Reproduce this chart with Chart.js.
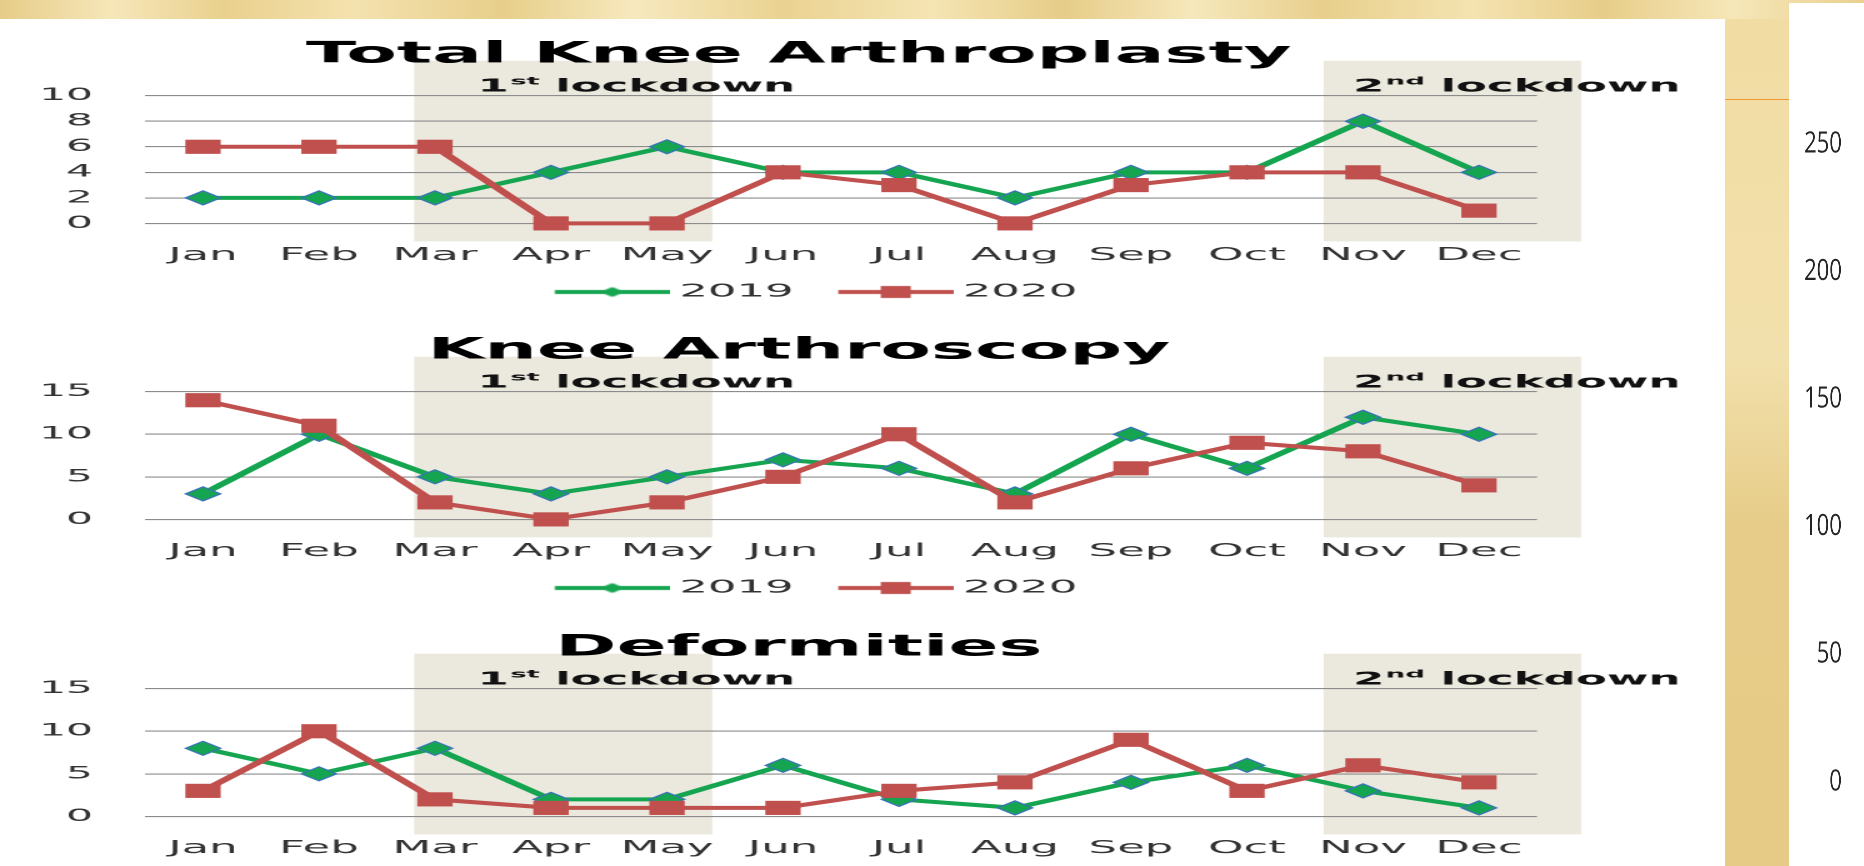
<!DOCTYPE html>
<html>
<head>
<meta charset="utf-8">
<script src="https://cdn.jsdelivr.net/npm/chart.js@4.4.1/dist/chart.umd.min.js"></script>
<style>
  html, body { margin: 0; padding: 0; }
  body {
    width: 1864px; height: 866px; overflow: hidden; position: relative;
    background: linear-gradient(90deg, #e6cc88 0%, #f6e7b9 6%, #e9d08e 12%, #f4e2ae 19%, #e7ce8a 27%,
      #f7e9be 34%, #ead291 42%, #f5e5b3 50%, #e6cc88 57%, #f6e8bb 64%, #e8cf8d 71%, #f4e3b0 79%,
      #e7cd89 86%, #f6e7b9 93%, #e9d08e 100%);
  }
  #panel { position: absolute; left: 0; top: 19px; width: 1725px; height: 847px; background: #fff; }
  #strip { position: absolute; left: 1725px; top: 19px; width: 64px; height: 847px;
    background: linear-gradient(180deg, #f1dca3 0%, #f2e0ac 40%, #e6cc88 60%, #e5cb86 100%); }
  #orange { position: absolute; left: 1725px; top: 99px; width: 64px; height: 1px; background: #f0962e; }
  #side { position: absolute; left: 1789px; top: 3px; width: 75px; height: 863px; background: #fff; }
  .wrap { position: absolute; left: 0; transform-origin: 0 0; }
</style>
</head>
<body>
<div id="panel"></div>
<div id="strip"></div>
<div id="orange"></div>
<div id="side"></div>

<div class="wrap" style="top:19px; transform:scaleX(2.5)"><canvas id="c1" width="690" height="292" style="width:690px;height:292px"></canvas></div>
<div class="wrap" style="top:315px; transform:scaleX(2.5)"><canvas id="c2" width="690" height="292" style="width:690px;height:292px"></canvas></div>
<div class="wrap" style="top:612px; transform:scaleX(2.5)"><canvas id="c3" width="690" height="292" style="width:690px;height:292px"></canvas></div>
<div class="wrap" style="left:1789px; top:0; transform:scaleX(0.76)"><canvas id="c4" width="100" height="866" style="width:100px;height:866px"></canvas></div>

<script>
// ---------------- data ----------------
const months = ['Jan', 'Feb', 'Mar', 'Apr', 'May', 'Jun', 'Jul', 'Aug', 'Sep', 'Oct', 'Nov', 'Dec'];
const seriesNames = ['2019', '2020'];

const tka2019 = [2, 2, 2, 4, 6, 4, 4, 2, 4, 4, 8, 4];
const tka2020 = [6, 6, 6, 0, 0, 4, 3, 0, 3, 4, 4, 1];

const arthro2019 = [3, 10, 5, 3, 5, 7, 6, 3, 10, 6, 12, 10];
const arthro2020 = [14, 11, 2, 0, 2, 5, 10, 2, 6, 9, 8, 4];

const deform2019 = [8, 5, 8, 2, 2, 6, 2, 1, 4, 6, 3, 1];
const deform2020 = [3, 10, 2, 1, 1, 1, 3, 4, 9, 3, 6, 4];

const tkaTicks = [0, 2, 4, 6, 8, 10];
const smallTicks = [0, 5, 10, 15];
const sideTicks = [0, 50, 100, 150, 200, 250];

// lockdown periods, in month index units
const lockdownNum = ['1', '2'];
const lockdownSuffix = ['st', 'nd'];
const lockdownFrom = [1.82, 9.66];
const lockdownTo = [4.39, 11.88];
const lockdownLabelAt = [3.73, 11.32];

// ---------------- styles ----------------
const green = '#15a550';
const red = '#c0504d';
const diamondEdge = '#3a73b6';
const bandColor = '#ebe8de';
const gridColor = '#8c8c8c';
const textColor = '#333333';
const FONT = 'DejaVu Sans';

Chart.defaults.font.family = FONT;

// legend icon: line with marker in the middle, like the spreadsheet legend
function legendIcon(color, square) {
  var c = document.createElement('canvas');
  c.width = 65; c.height = 20;
  var g = c.getContext('2d');
  g.strokeStyle = color; g.lineWidth = 4;
  g.beginPath(); g.moveTo(19, 10); g.lineTo(65, 10); g.stroke();
  g.fillStyle = color;
  if (square) {
    g.fillRect(42 - 6, 10 - 6, 12, 12);
  } else {
    g.beginPath(); g.moveTo(42 - 5, 10); g.lineTo(42, 5); g.lineTo(42 + 5, 10); g.lineTo(42, 15); g.closePath(); g.fill();
  }
  return c;
}
const icons = [legendIcon(green, false), legendIcon(red, true)];

const lockdownPlugin = {
  id: 'lockdowns',
  beforeDraw(chart) {
    const ctx = chart.ctx, area = chart.chartArea, x = chart.scales.x;
    ctx.save();
    ctx.fillStyle = bandColor;
    for (let i = 0; i < lockdownFrom.length; i++) {
      const x0 = x.getPixelForValue(lockdownFrom[i]);
      const x1 = x.getPixelForValue(lockdownTo[i]);
      ctx.fillRect(x0, area.top - 35, x1 - x0, area.bottom - area.top + 53);
    }
    ctx.restore();
  },
  afterDraw(chart) {
    const ctx = chart.ctx, area = chart.chartArea, x = chart.scales.x;
    const big = 'bold 18px "' + FONT + '"';
    const small = 'bold 11px "' + FONT + '"';
    const base = area.top - 4;
    ctx.save();
    ctx.fillStyle = '#111';
    ctx.textBaseline = 'alphabetic';
    ctx.textAlign = 'left';
    for (let i = 0; i < lockdownNum.length; i++) {
      ctx.font = big;
      const w1 = ctx.measureText(lockdownNum[i]).width;
      const w3 = ctx.measureText(' lockdown').width;
      ctx.font = small;
      const w2 = ctx.measureText(lockdownSuffix[i]).width;
      let sx = x.getPixelForValue(lockdownLabelAt[i]) - (w1 + w2 + w3) / 2;
      ctx.font = big;
      ctx.fillText(lockdownNum[i], sx, base);
      ctx.font = small;
      ctx.fillText(lockdownSuffix[i], sx + w1 + 0.5, base - 7);
      ctx.font = big;
      ctx.fillText(' lockdown', sx + w1 + w2 + 0.5, base);
    }
    ctx.restore();
  }
};

function makeChart(id, title, v2019, v2020, ticks) {
  return new Chart(document.getElementById(id), {
    type: 'line',
    data: {
      labels: months,
      datasets: [
        {
          label: seriesNames[0], data: v2019, order: 1, clip: false,
          borderColor: green, backgroundColor: green, borderWidth: 4, tension: 0,
          pointStyle: 'rectRot', pointRadius: 7, pointHoverRadius: 7,
          pointBackgroundColor: green, pointBorderColor: diamondEdge, pointBorderWidth: 1
        },
        {
          label: seriesNames[1], data: v2020, order: 0, clip: false,
          borderColor: red, backgroundColor: red, borderWidth: 4, tension: 0,
          pointStyle: 'rect', pointRadius: 10, pointHoverRadius: 10,
          pointBackgroundColor: red, pointBorderWidth: 0
        }
      ]
    },
    options: {
      responsive: false,
      animation: false,
      devicePixelRatio: 2,
      events: [],
      layout: { padding: { left: 0, right: 51, top: 0, bottom: 0 } },
      plugins: {
        title: {
          display: true, text: title, color: '#000',
          font: { size: 29.5, weight: 'bold' },
          padding: { top: 18.3, bottom: 23 }
        },
        legend: {
          display: true, position: 'bottom',
          labels: {
            usePointStyle: true, pointStyleWidth: 54.6, padding: 4,
            color: textColor, font: { size: 18 },
            generateLabels: function (chart) {
              return chart.data.datasets.map(function (ds, i) {
                return { text: ds.label, pointStyle: icons[i], fillStyle: 'transparent',
                  strokeStyle: 'transparent', lineWidth: 0, hidden: false, datasetIndex: i, fontColor: textColor };
              });
            }
          }
        },
        tooltip: { enabled: false }
      },
      scales: {
        x: {
          type: 'category', offset: true,
          grid: { display: false }, border: { display: false },
          ticks: { color: textColor, font: { size: 18 }, padding: 13, autoSkip: false, maxRotation: 0, minRotation: 0 }
        },
        y: {
          position: 'left',
          min: ticks[0], max: ticks[ticks.length - 1],
          afterBuildTicks: function (scale) { scale.ticks = ticks.map(function (v) { return { value: v }; }); },
          afterFit: function (scale) { scale.width = 58; },
          grid: { color: gridColor, lineWidth: 1.1, drawTicks: false },
          border: { display: false },
          ticks: { color: textColor, font: { size: 17 }, padding: 20.8 }
        },
        yr: {
          position: 'right', display: true,
          afterFit: function (scale) { scale.width = 24.2; },
          grid: { display: false }, border: { display: false },
          ticks: { display: false }
        }
      }
    },
    plugins: [lockdownPlugin]
  });
}

makeChart('c1', 'Total Knee Arthroplasty', tka2019, tka2020, tkaTicks);
makeChart('c2', 'Knee Arthroscopy', arthro2019, arthro2020, smallTicks);
makeChart('c3', 'Deformities', deform2019, deform2020, smallTicks);

// axis of the next chart, visible at the right edge of the slide
new Chart(document.getElementById('c4'), {
  type: 'line',
  data: { labels: [], datasets: [] },
  options: {
    responsive: false,
    animation: false,
    devicePixelRatio: 2,
    events: [],
    layout: { padding: { top: 144, bottom: 84, left: 0, right: 0 } },
    plugins: { legend: { display: false }, title: { display: false }, tooltip: { enabled: false } },
    scales: {
      x: { display: false },
      y: {
        position: 'left',
        min: sideTicks[0], max: sideTicks[sideTicks.length - 1],
        afterBuildTicks: function (scale) { scale.ticks = sideTicks.map(function (v) { return { value: v }; }); },
        afterFit: function (scale) { scale.width = 84; },
        grid: { display: false }, border: { display: false },
        ticks: { color: '#262626', font: { family: 'Open Sans', size: 29 }, padding: 6.4 }
      }
    }
  }
});
</script>
</body>
</html>
